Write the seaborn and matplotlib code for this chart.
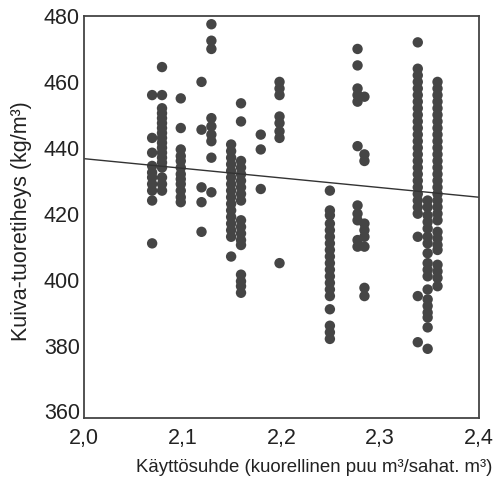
import matplotlib
matplotlib.use("Agg")
import matplotlib.pyplot as plt
import seaborn as sns
import pandas as pd

# ---- data ----
col_x = [2.069, 2.079, 2.098, 2.119, 2.129, 2.149, 2.159, 2.179, 2.198,
         2.249, 2.277, 2.284, 2.338, 2.348, 2.358]

col_A = [456, 443, 438.5, 434.5, 432.5, 431, 429, 427, 424, 411]
col_B = [464.5, 456, 452, 450.5, 449, 447.5, 446, 444.5, 443, 441.5, 440,
         438.5, 437, 435.5, 434, 431, 429, 427]
col_C = [455, 446, 439.5, 437.5, 436, 434, 432, 430.5, 429, 427, 425, 423.5]
col_D = [460, 445.5, 428, 423.5, 414.5]
col_E = [477.5, 472.5, 470, 449, 446.5, 444, 442, 437, 426.5]
col_F = [441, 439, 437, 435, 433, 431, 429, 427, 425, 423, 421, 419, 417,
         415, 413, 407]
col_G = [453.5, 448, 436, 434, 432, 430, 428, 426, 424, 418, 416, 414, 412,
         410.5, 401.5, 399.5, 398, 396]
col_H = [444, 439.5, 427.5]
col_I = [460, 458, 456, 449.5, 447.5, 445, 443, 405]
col_J = [427, 421, 419.5, 417, 415, 413, 411, 409, 407, 405, 403, 401, 399,
         397, 395, 391, 386, 384, 382]
col_K = [470, 465, 458, 456, 454, 440.5, 422.5, 420, 418, 412, 410]
col_L = [455.5, 438, 436, 417, 415, 413, 410, 397.5, 395]
col_M = [472, 464, 462, 460, 458, 456, 454, 452, 450, 448, 446, 444, 442,
         440, 438, 436, 434, 432, 430, 428, 426, 424, 422, 420, 413, 395, 381]
col_N = [424, 422, 419.5, 417.5, 415.5, 413, 411, 408, 405, 403, 401, 397,
         394, 392, 390, 388.5, 385.5, 379]
col_O = [460, 458, 456, 454, 452, 450, 448, 446, 444, 442, 440, 438, 436,
         434, 432, 430, 428, 426, 424, 422, 420, 418, 414.5, 412.5, 410.5,
         409, 404.5, 402.5, 400.5, 398]

columns = [col_A, col_B, col_C, col_D, col_E, col_F, col_G, col_H, col_I,
           col_J, col_K, col_L, col_M, col_N, col_O]

fit_x = [2.0, 2.4]
fit_y = [436.7, 425.0]

x_ticks = [2.0, 2.1, 2.2, 2.3, 2.4]
x_ticklabels = ["2,0", "2,1", "2,2", "2,3", "2,4"]
y_ticks = [360, 380, 400, 420, 440, 460, 480]

x_label = "Käyttösuhde (kuorellinen puu m³/sahat. m³)"
y_label = "Kuiva-tuoretiheys (kg/m³)"

# ---- build table ----
xs, ys = [], []
for cx, vals in zip(col_x, columns):
    xs.extend([cx] * len(vals))
    ys.extend(vals)
df = pd.DataFrame({"x": xs, "y": ys})
fit_df = pd.DataFrame({"x": fit_x, "y": fit_y})

# ---- plot ----
sns.set_style("white")
plt.rcParams["font.family"] = ["Liberation Sans", "DejaVu Sans"]

fig = plt.figure(figsize=(4.98, 5.03), dpi=100)
ax = fig.add_axes([84 / 498, 1 - 418 / 503, 395 / 498, 402 / 503])

sns.scatterplot(data=df, x="x", y="y", ax=ax, color="#454545", s=56,
                edgecolor="none", linewidth=0, legend=False)
sns.lineplot(data=fit_df, x="x", y="y", ax=ax, color="#333333",
             linewidth=1.0, legend=False)

ax.set_xlim(2.0, 2.4)
ax.set_ylim(358, 480)
ax.set_xticks(x_ticks)
ax.set_xticklabels(x_ticklabels)
ax.set_yticks(y_ticks)

ax.tick_params(axis="both", direction="out", length=3, width=1,
               color="#333333", labelsize=15.5, labelcolor="#222222")
ax.tick_params(axis="y", pad=0)
ax.tick_params(axis="x", pad=4)
for sp in ax.spines.values():
    sp.set_color("#444444")
    sp.set_linewidth(1.3)
    sp.set_visible(True)

ax.set_xlabel(x_label, fontsize=13.4, color="#222222", ha="right", va="center")
ax.xaxis.set_label_coords(1.035, -0.124)
ax.set_ylabel(y_label, fontsize=15.5, color="#222222", va="center")
ax.yaxis.set_label_coords(-0.158, 0.49)

fig.savefig("out.png", dpi=100)
